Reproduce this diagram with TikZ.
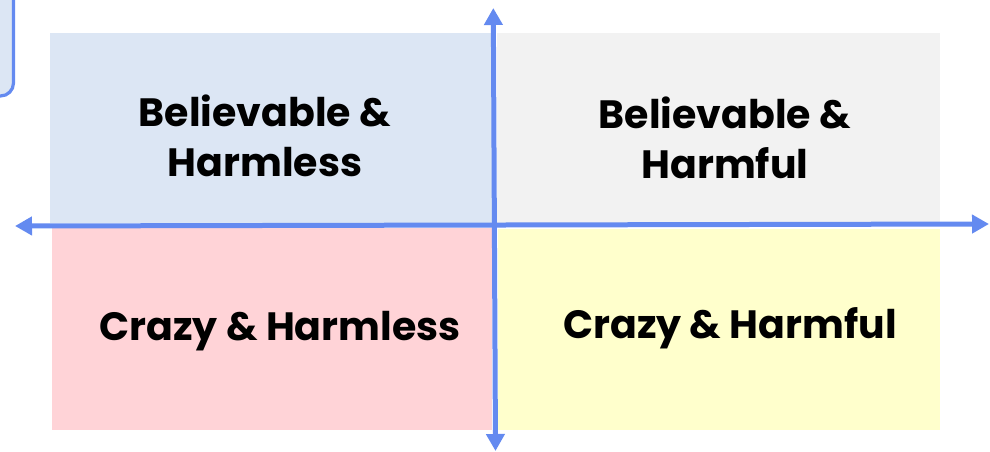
\documentclass[tikz,border=0pt]{standalone}
\usepackage{fontspec}
\setmainfont{Poppins}
\usetikzlibrary{arrows.meta}
\definecolor{axisblue}{RGB}{100,138,240}
\definecolor{qtl}{RGB}{220,230,244}
\definecolor{qtr}{RGB}{242,242,242}
\definecolor{qbl}{RGB}{255,211,215}
\definecolor{qbr}{RGB}{255,255,204}
\tikzset{
  lbl/.style={font=\fontsize{39.5}{50}\selectfont\bfseries, align=center, text=black, inner sep=0pt},
  axis/.style={draw=axisblue, line width=5pt, {Triangle[width=18pt,length=17pt]}-{Triangle[width=18pt,length=17pt]}},
}
\begin{document}
\begin{tikzpicture}[x=1pt,y=-1pt]
\useasboundingbox (0,0) rectangle (990,451);
\begin{scope}
\clip (0,0) rectangle (990,451);
\draw[draw=axisblue, fill=qtl, line width=3.2pt, rounded corners=13pt] (-60,-60) rectangle (13.5,96);
\end{scope}
\fill[qtl] (50,33) rectangle (492,223);
\fill[qtr] (497,33) rectangle (940,223);
\fill[qbl] (52,228) rectangle (492,430);
\fill[qbr] (498,229) rectangle (940,430);
\node[lbl] (tl) at (265,136) {Believable \&\\Harmless};
\node[lbl] (tr) at (725,138) {Believable \&\\Harmful};
\node[lbl] (bl) at (280,331) {Crazy \& Harmless};
\node[lbl] (br) at (730,328) {Crazy \& Harmful};
\coordinate (vb) at (495.5,451);
\coordinate (vt) at (493.3,8);
\coordinate (hl) at (15,226);
\coordinate (hr) at (989,224);
\draw[axis] (vb) -- (vt);
\draw[axis] (hl) -- (hr);
\end{tikzpicture}
\end{document}
